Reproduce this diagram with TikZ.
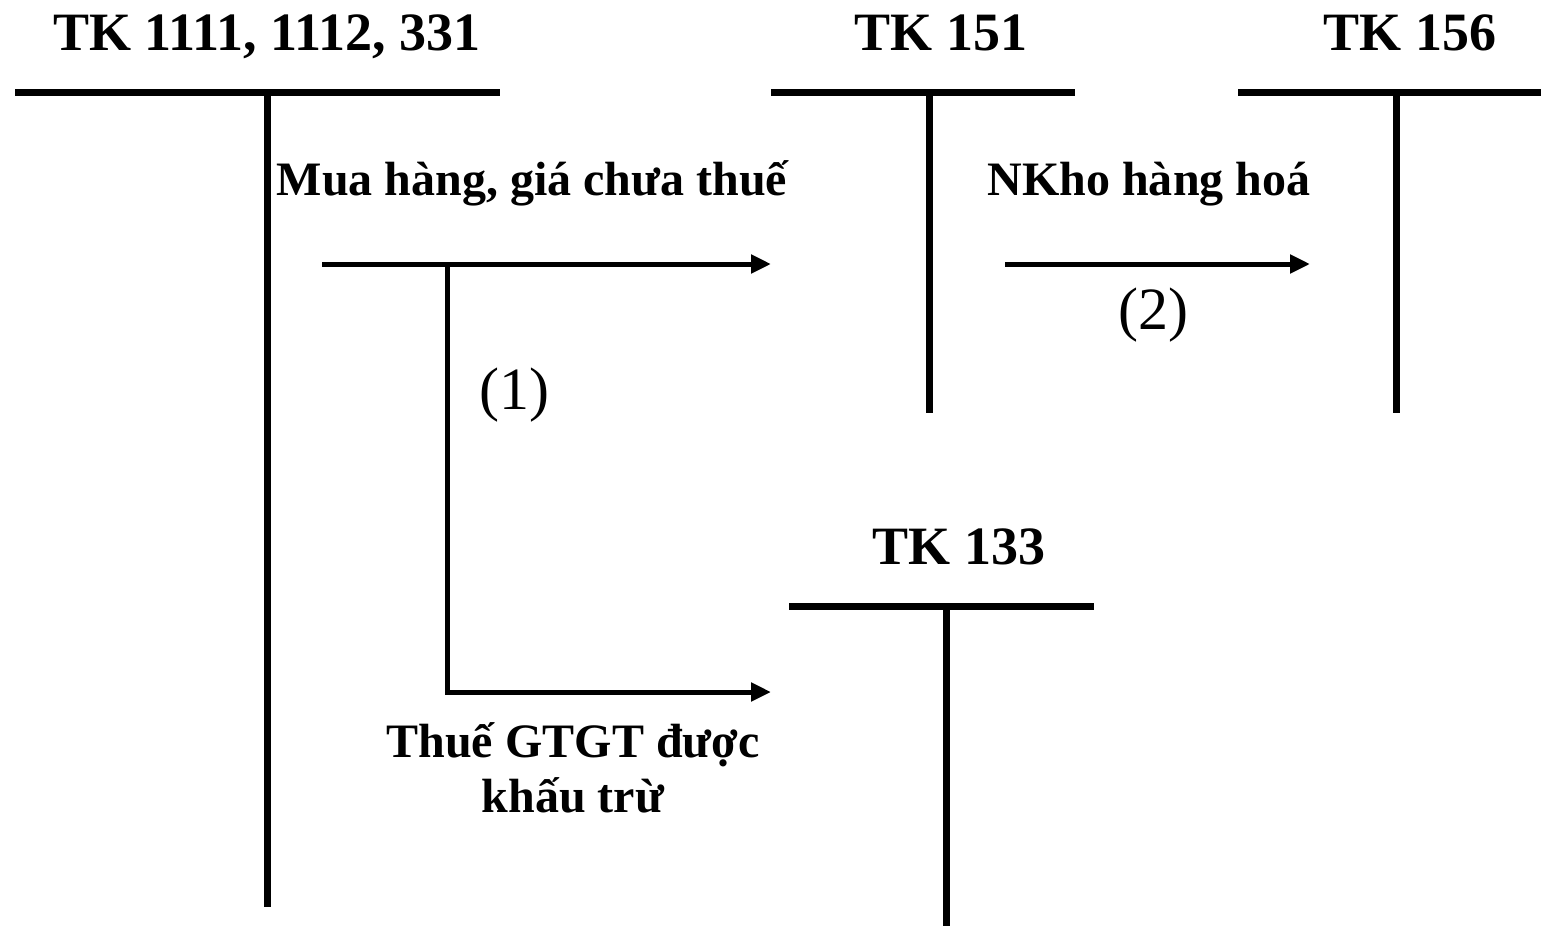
\documentclass[tikz,border=0pt]{standalone}
\usepackage{fontspec}
\setmainfont{Liberation Serif}
\usepackage{tikz}
\usetikzlibrary{arrows.meta}

\begin{document}
\begin{tikzpicture}[x=1pt,y=-1pt,
  title/.style={font=\fontsize{54}{60}\selectfont\bfseries, anchor=base},
  lbl/.style={font=\fontsize{48}{55}\selectfont\bfseries, align=center, anchor=base},
  num/.style={font=\fontsize{60}{66}\selectfont, anchor=base},
  taccount/.style={draw,line width=7pt},
  flow/.style={draw,line width=5pt,-{Triangle[length=20pt,width=18pt]}}
  ]
  \useasboundingbox (0,0) rectangle (1541,926);
  % account titles
  \node[title] (tkcash) at (267,50) {TK 1111, 1112, 331};
  \node[title] (tk151) at (941,50) {TK 151};
  \node[title] (tk156) at (1410,50) {TK 156};
  \node[title] (tk133) at (959,564) {TK 133};
  % T shapes
  \coordinate (cashL) at (15,92);   \coordinate (cashR) at (500,92);
  \coordinate (cashT) at (267,92);  \coordinate (cashB) at (267,907);
  \coordinate (a151L) at (771,92);  \coordinate (a151R) at (1075,92);
  \coordinate (a151T) at (929,92);  \coordinate (a151B) at (929,413);
  \coordinate (a156L) at (1238,92); \coordinate (a156R) at (1541,92);
  \coordinate (a156T) at (1396,92); \coordinate (a156B) at (1396,413);
  \coordinate (a133L) at (789,606); \coordinate (a133R) at (1094,606);
  \coordinate (a133T) at (946,606); \coordinate (a133B) at (946,926);
  \draw[taccount] (cashL) -- (cashR) (cashT) -- (cashB);
  \draw[taccount] (a151L) -- (a151R) (a151T) -- (a151B);
  \draw[taccount] (a156L) -- (a156R) (a156T) -- (a156B);
  \draw[taccount] (a133L) -- (a133R) (a133T) -- (a133B);
  % entries
  \coordinate (buyS) at (322,264);  \coordinate (buyE) at (771,264);
  \coordinate (vatS) at (447,264);  \coordinate (vatE) at (771,692);
  \coordinate (stockS) at (1005,264); \coordinate (stockE) at (1310,264);
  \draw[flow] (buyS) -- (buyE);
  \draw[flow] (vatS) |- (vatE);
  \draw[flow] (stockS) -- (stockE);
  \node[lbl] (buylbl) at (532,195) {Mua hàng, giá chưa thuế};
  \node[lbl] (vatlbl) at (573,757) {Thuế GTGT được};
  \node[lbl] (vatlbl2) at (573,812) {khấu trừ};
  \node[lbl] (stocklbl) at (1149,195) {NKho hàng hoá};
  \node[num] (one) at (514,409) {(1)};
  \node[num] (two) at (1153,329) {(2)};
\end{tikzpicture}
\end{document}
